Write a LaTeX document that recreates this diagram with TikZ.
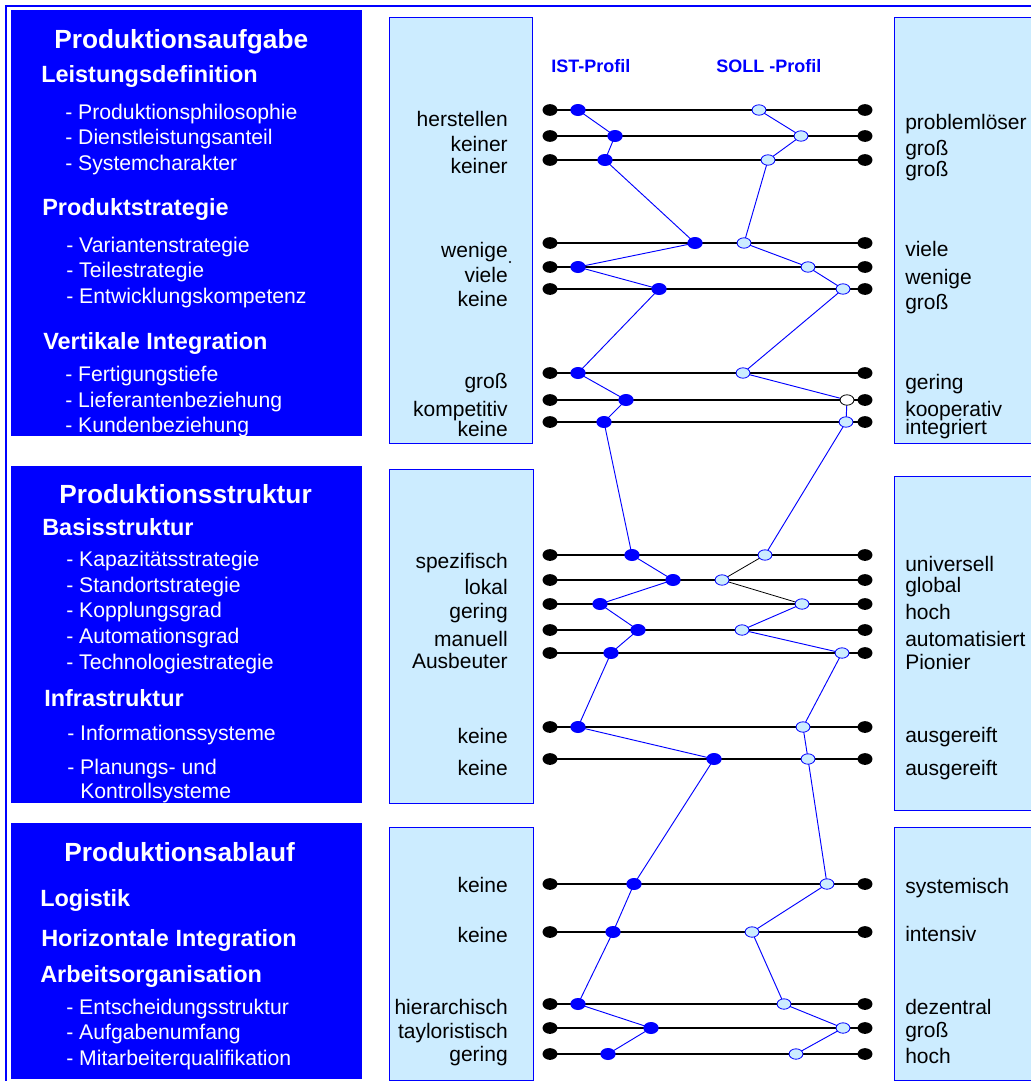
\documentclass[tikz,border=0pt]{standalone}
\usepackage{fontspec}
\setmainfont{Liberation Sans}
\usetikzlibrary{shapes.geometric}
\definecolor{panelblue}{RGB}{204,236,255}
\pgfdeclarelayer{back}
\pgfsetlayers{back,main}

\begin{document}
\begin{tikzpicture}[x=0.75pt,y=-0.75pt,
    enddot/.style={ellipse,fill=black,inner sep=0pt,minimum width=11.2pt,minimum height=8.8pt},
    istdot/.style={ellipse,fill=blue,inner sep=0pt,minimum width=11.5pt,minimum height=9pt},
    solldot/.style={ellipse,draw=blue,fill=panelblue,line width=.6pt,inner sep=0pt,minimum width=10.4pt,minimum height=7.8pt},
    sollwhite/.style={solldot,draw=black,fill=white},
    ruler/.style={line width=1pt},
    profline/.style={blue,line width=.7pt},
    panel/.style={draw=blue,fill=panelblue,line width=.7pt},
    boxtitle/.style={text=white,anchor=base west,inner sep=0pt,font=\bfseries\fontsize{19.7}{22}\selectfont},
    boxhead/.style={text=white,anchor=base west,inner sep=0pt,font=\bfseries\fontsize{17.6}{20}\selectfont},
    boxitem/.style={text=white,anchor=base west,inner sep=0pt,font=\fontsize{15.9}{18}\selectfont},
    labl/.style={anchor=base east,inner sep=0pt,font=\fontsize{15.75}{18}\selectfont},
    labr/.style={anchor=base west,inner sep=0pt,font=\fontsize{15.75}{18}\selectfont},
    profhead/.style={text=blue,anchor=base west,inner sep=0pt,font=\bfseries\fontsize{13.5}{15}\selectfont}]
  \useasboundingbox (0,0) rectangle (1031,1081);
  % frame
  \draw[blue,line width=1.5pt] (6,1085) -- (6,6.5) -- (1040,6.5);
  % dark boxes
  \fill[blue] (11,10) rectangle (362,436);
  \fill[blue] (11,466) rectangle (362,803);
  \fill[blue] (11,823) rectangle (362,1079);
  % light panels
  \draw[panel] (389,17) rectangle (532,443);
  \draw[panel] (389,469) rectangle (533,803);
  \draw[panel] (389,827) rectangle (533,1080);
  \draw[panel] (894,17) rectangle (1040,443);
  \draw[panel] (894,476) rectangle (1040,810);
  \draw[panel] (894,827) rectangle (1040,1080);

  \foreach \name/\x/\y/\txt in {a/54/49/Produktionsaufgabe,b/59/503/Produktionsstruktur,
      c/64/861/Produktionsablauf}
    \node[boxtitle] (t\name) at (\x,\y) {\txt};
  \foreach \name/\x/\y/\txt in {1/41/83/Leistungsdefinition,2/42/215/Produktstrategie,
      3/43/349/Vertikale Integration,4/42/535/Basisstruktur,5/44/706/Infrastruktur,
      6/40/906/Logistik,7/41/946/Horizontale Integration,8/40/982/Arbeitsorganisation}
    \node[boxhead] (h\name) at (\x,\y) {\txt};
  \foreach \name/\x/\y/\txt in {1/65/119/- Produktionsphilosophie,2/65/144/- Dienstleistungsanteil,
      3/65/170/- Systemcharakter,4/66/252/- Variantenstrategie,5/66/277/- Teilestrategie,
      6/66/303/- Entwicklungskompetenz,7/65/381/- Fertigungstiefe,8/65/407/- Lieferantenbeziehung,
      9/65/432/- Kundenbeziehung,10/66/566/- Kapazitätsstrategie,11/66/592/- Standortstrategie,
      12/66/617/- Kopplungsgrad,13/66/643/- Automationsgrad,14/66/669/- Technologiestrategie,
      15/67/740/- Informationssysteme,16/67/774/- Planungs- und,17/80/798/Kontrollsysteme,
      18/66/1014/- Entscheidungsstruktur,19/66/1039/- Aufgabenumfang,20/66/1065/- Mitarbeiterqualifikation}
    \node[boxitem] (it\name) at (\x,\y) {\txt};

  % profile headers
  \node[profhead] (ist) at (551,73) {IST-Profil};
  \node[profhead] (soll) at (716,73) {SOLL -Profil};

  % rows: y / IST / SOLL
  \foreach \n/\y/\ix/\sx in {1/110/578/759,2/136/615/801,3/160/605/768,4/243/695/744,
      5/267/578/808,6/289/659/843,7/373/578/743,8/400/626/847,9/422/604/846,
      10/555/632/765,11/580/673/722,12/604/600/802,13/630/638/742,14/653/611/842,
      15/727/578/803,16/759/714/808,17/884/634/827,18/932/613/752,19/1004/578/784,
      20/1028/651/843,21/1054/608/796}{
    \node[enddot] (l\n) at (550,\y) {};
    \node[enddot] (r\n) at (865,\y) {};
    \node[istdot] (i\n) at (\ix,\y) {};
    \ifnum\n=8 \node[sollwhite] (s\n) at (\sx,\y) {};
    \else \node[solldot] (s\n) at (\sx,\y) {};
    \fi
  }
  \begin{pgfonlayer}{back}
    \foreach \n in {1,...,21}
      \draw[ruler] (l\n.center) -- (r\n.center);
    \draw[profline] (i1.center) \foreach \n in {2,...,21}{ -- (i\n.center)};
    \draw[profline] (s1.center) \foreach \n in {2,...,10}{ -- (s\n.center)};
    \draw[line width=.6pt] (s10.center) -- (s11.center) -- (s12.center);
    \draw[profline] (s12.center) \foreach \n in {13,...,21}{ -- (s\n.center)};
  \end{pgfonlayer}

  % scale labels
  \foreach \n/\y/\txt in {1/127/herstellen,2/151/keiner,3/173/keiner,4/257/wenige,
      5/282/viele,6/306/keine,7/388/groß,8/416/kompetitiv,9/436/keine,
      10/568/spezifisch,11/594/lokal,12/618/gering,13/646/manuell,14/668/Ausbeuter,
      15/743/keine,16/775/keine,17/892/keine,18/942/keine,19/1014/hierarchisch,
      20/1038/tayloristisch,21/1061/gering}
    \node[labl] (ll\n) at (508,\y) {\txt};
  \node[circle,fill=black,inner sep=0pt,minimum size=1.6pt] (wdot) at (510,262) {};
  \foreach \n/\y/\txt in {1/129/problemlöser,2/155/groß,3/176/groß,4/256/viele,
      5/284/wenige,6/309/groß,7/389/gering,8/416/kooperativ,9/434/integriert,
      10/571/universell,11/592/global,12/619/hoch,13/646/automatisiert,14/669/Pionier,
      15/742/ausgereift,16/775/ausgereift,17/893/systemisch,18/941/intensiv,
      19/1014/dezentral,20/1037/groß,21/1063/hoch}
    \node[labr] (rl\n) at (905,\y) {\txt};
\end{tikzpicture}
\end{document}
